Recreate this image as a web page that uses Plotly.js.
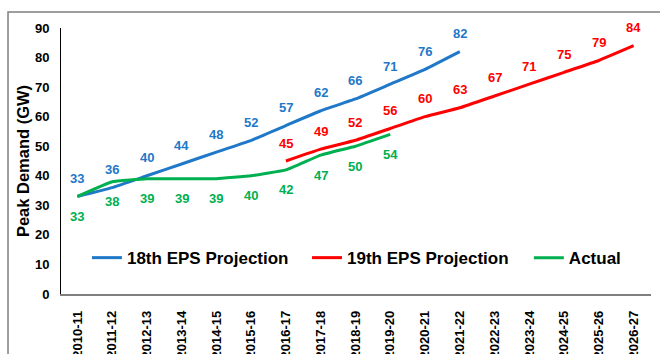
<!DOCTYPE html>
<html>
<head>
<meta charset="utf-8">
<script src="https://cdn.plot.ly/plotly-3.0.1.min.js"></script>
<style>html,body{margin:0;padding:0;background:#fff;}#chart{width:660px;height:354px;}</style>
</head>
<body>
<div id="chart"></div>
<script>
const years = ["2010-11","2011-12","2012-13","2013-14","2014-15","2015-16","2016-17","2017-18","2018-19","2019-20","2020-21","2021-22","2022-23","2023-24","2024-25","2025-26","2026-27"];
const eps18Years = years.slice(0, 12);
const eps18 = [33, 36, 40, 44, 48, 52, 57, 62, 66, 71, 76, 82];
const eps19Years = years.slice(6);
const eps19 = [45, 49, 52, 56, 60, 63, 67, 71, 75, 79, 84];
const actualYears = years.slice(0, 10);
const actual = [33, 38, 39, 39, 39, 40, 42, 47, 50, 54];

const BLUE = "#1F78C8", RED = "#FF0000", GREEN = "#00B050";
const FONT = "Arial, 'Liberation Sans', sans-serif";

function line(name, x, y, color, leg) {
  return {type: "scatter", mode: "lines", name: name, x: x, y: y, legend: leg,
    line: {color: color, width: 3, shape: "spline", smoothing: 0.3},
    hoverinfo: "skip"};
}
function labels(x, y, color, shift) {
  return x.map((xv, i) => ({x: xv, y: y[i], xref: "x", yref: "y", text: String(y[i]),
    showarrow: false, yshift: shift,
    font: {family: FONT, size: 13, color: color, weight: "bold"}}));
}
function leg(x) {
  return {orientation: "h", x: x, y: 0.135, xanchor: "left", yanchor: "middle",
    font: {family: FONT, size: 17, color: "#000", weight: "bold"},
    bgcolor: "rgba(0,0,0,0)", itemwidth: 30};
}

const data = [
  line("18th EPS Projection", eps18Years, eps18, BLUE, "legend"),
  line("19th EPS Projection", eps19Years, eps19, RED, "legend2"),
  line("Actual", actualYears, actual, GREEN, "legend3")
];

const layout = {
  width: 660, height: 354,
  margin: {l: 61, r: 9, t: 28, b: 60},
  paper_bgcolor: "#fff", plot_bgcolor: "#fff",
  font: {family: FONT, color: "#000"},
  showlegend: true,
  legend: leg(0.044), legend2: leg(0.417), legend3: leg(0.793),
  xaxis: {type: "category", categoryorder: "array", categoryarray: years,
    range: [-0.47, 16.5], showgrid: false, zeroline: false,
    showline: true, linecolor: "#7f7f7f", linewidth: 1.5,
    ticks: "", tickangle: -90, ticklabelstandoff: 10,
    tickfont: {family: FONT, size: 13, color: "#000", weight: "bold"},
    fixedrange: true},
  yaxis: {range: [0, 90], dtick: 10, showgrid: false, zeroline: false,
    showline: true, linecolor: "#000", linewidth: 1, ticks: "",
    ticklabelstandoff: 8,
    tickfont: {family: FONT, size: 13, color: "#000", weight: "bold"},
    title: {text: "Peak Demand (GW)", font: {family: FONT, size: 16.5, color: "#000", weight: "bold"}, standoff: 1},
    fixedrange: true},
  annotations: [].concat(
    labels(eps18Years, eps18, BLUE, 18),
    labels(eps19Years, eps19, RED, 18),
    labels(actualYears, actual, GREEN, -20)
  ),
  shapes: [{type: "rect", xref: "paper", yref: "paper",
    x0: -0.0898, x1: 1.05, y0: -0.4, y1: 1.06,
    line: {color: "#7f7f7f", width: 1.5}, fillcolor: "rgba(0,0,0,0)", layer: "below"}]
};

Plotly.newPlot("chart", data, layout, {displayModeBar: false, staticPlot: true});
</script>
</body>
</html>
